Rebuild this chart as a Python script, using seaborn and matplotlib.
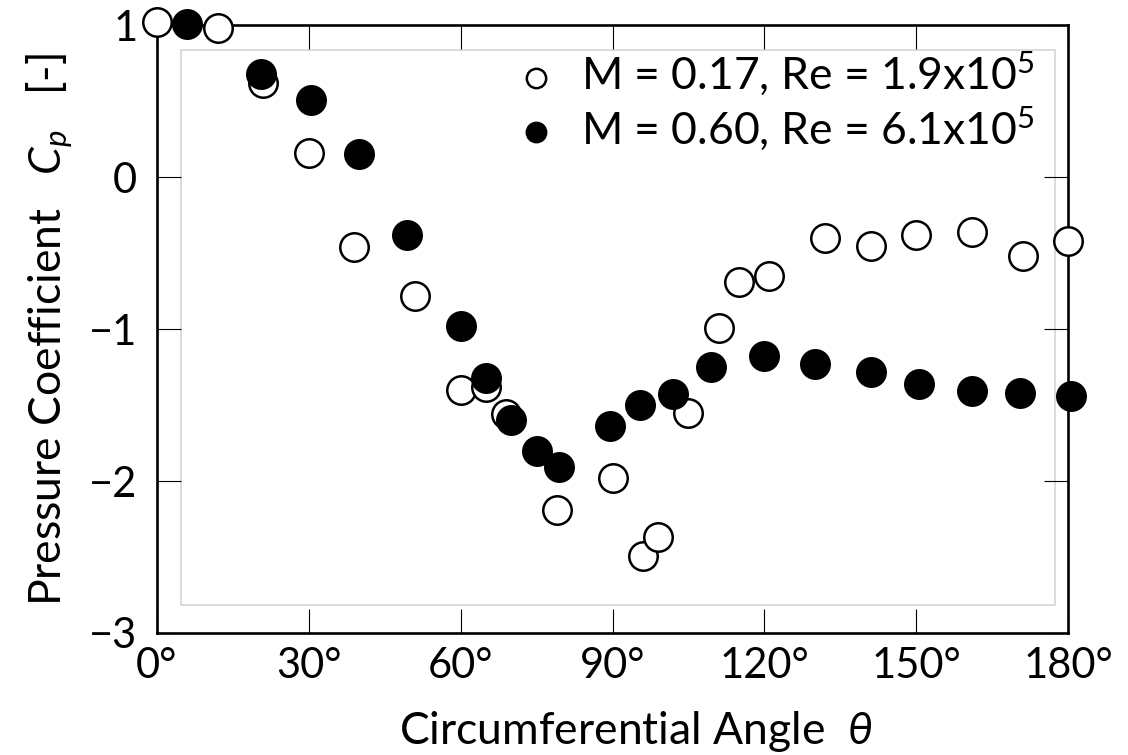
import matplotlib
matplotlib.use("Agg")
import matplotlib.pyplot as plt
from matplotlib.patches import Rectangle
import seaborn as sns
import pandas as pd

# Data
theta_low = [0, 12, 21, 30, 39, 51, 60, 65, 69, 79, 90, 96, 99, 105, 111, 115, 121,
             132, 141, 150, 161, 171, 180]
cp_low = [1.02, 0.98, 0.62, 0.16, -0.46, -0.78, -1.40, -1.38, -1.56, -2.19, -1.98, -2.49,
          -2.37, -1.55, -0.99, -0.69, -0.65, -0.40, -0.45, -0.38, -0.36, -0.52, -0.42]

theta_high = [6, 20.5, 30.5, 40, 49.5, 60, 65, 70, 75, 79.5, 89.5, 95.5, 102, 109.5,
              120, 130, 141, 150.5, 161, 170.5, 180.5]
cp_high = [1.01, 0.68, 0.51, 0.15, -0.38, -0.98, -1.32, -1.60, -1.80, -1.91, -1.64,
           -1.50, -1.43, -1.25, -1.18, -1.23, -1.28, -1.36, -1.41, -1.42, -1.44]

label_low = "M = 0.17, Re = 1.9x10$^5$"
label_high = "M = 0.60, Re = 6.1x10$^5$"

xticks = [0, 30, 60, 90, 120, 150, 180]
xtick_labels = ["0°", "30°", "60°", "90°", "120°", "150°", "180°"]
yticks = [1, 0, -1, -2, -3]

df_low = pd.DataFrame({"theta": theta_low, "cp": cp_low})
df_high = pd.DataFrame({"theta": theta_high, "cp": cp_high})

sns.set_style("white")
plt.rcParams["font.family"] = ["Lato", "DejaVu Sans"]
plt.rcParams["mathtext.fontset"] = "custom"
plt.rcParams["mathtext.rm"] = "Lato"
plt.rcParams["mathtext.it"] = "Lato:italic"
plt.rcParams["text.color"] = "black"
plt.rcParams["axes.labelcolor"] = "black"

fig = plt.figure(figsize=(11.28, 7.55), dpi=100)
ax = fig.add_axes([0.139, 0.1616, 0.808, 0.805])

# light grey inner frame
ax.add_patch(Rectangle((0.0263, 0.046), 0.959, 0.914, transform=ax.transAxes,
                       fill=False, edgecolor="#d4d4d4", linewidth=1.2, zorder=0.5))

sns.scatterplot(data=df_low, x="theta", y="cp", ax=ax, s=420, color="white",
                edgecolor="black", linewidth=1.8, label=label_low, clip_on=False, zorder=3)
sns.scatterplot(data=df_high, x="theta", y="cp", ax=ax, s=420, color="black",
                edgecolor="black", linewidth=1.8, label=label_high, clip_on=False, zorder=3)

ax.set_xlim(0, 180)
ax.set_ylim(-3, 1)
ax.set_xticks(xticks)
ax.set_xticklabels(xtick_labels)
ax.set_yticks(yticks)

ax.tick_params(direction="in", length=17, width=0.8, top=True, right=True,
               bottom=True, left=True, labelsize=30, colors="black")
ax.tick_params(axis="x", pad=10)
ax.tick_params(axis="y", pad=14)
for sp in ax.spines.values():
    sp.set_linewidth(1.9)
    sp.set_color("black")
    sp.set_visible(True)

ax.set_xlabel(r"Circumferential Angle  $\theta$", fontsize=32)
ax.set_ylabel(r"Pressure Coefficient   $C_p$   [-]", fontsize=32, labelpad=10)
ax.xaxis.set_label_coords(0.525, -0.125)

leg = ax.legend(loc="upper right", bbox_to_anchor=(0.99, 1.0), frameon=False,
                fontsize=32, markerscale=0.68, handletextpad=0.02,
                labelspacing=0.16, borderaxespad=0.15)

fig.savefig("out.png", dpi=100)
